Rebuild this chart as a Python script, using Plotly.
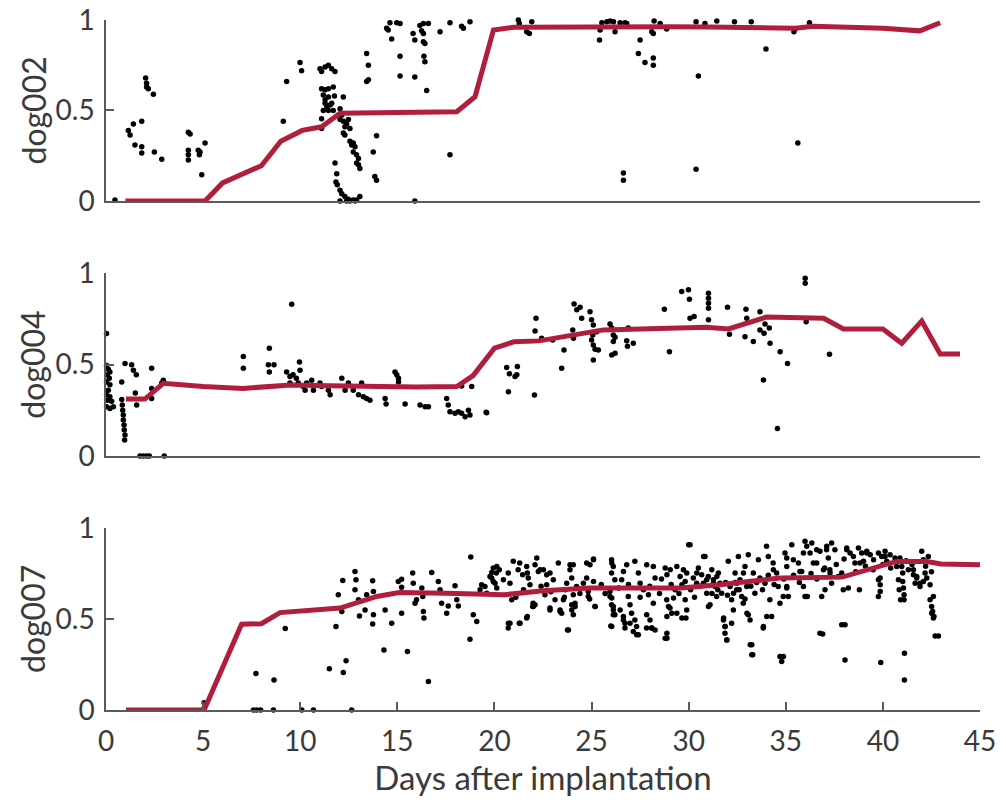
import plotly.graph_objects as go

# ---------------- data ----------------
x_ticks = [0, 5, 10, 15, 20, 25, 30, 35, 40, 45]
y_ticks = [0, 0.5, 1]
y_tick_text = ["0", "0.5", "1"]
panel_names = ["dog002", "dog004", "dog007"]
x_title = "Days after implantation"

dog002_line_days = [1.0, 5.1, 6.0, 7.0, 8.0, 9.0, 10.1, 11.1, 12.05, 14, 16, 18.06, 19.0, 19.95, 21.0,
                    23, 25, 27, 29, 31, 33, 34.5, 35.5, 36.4, 38, 40, 41.9, 42.95]
dog002_line_vals = [0, 0, 0.10, 0.145, 0.195, 0.33, 0.39, 0.41, 0.485, 0.488, 0.49, 0.493, 0.576, 0.945, 0.96,
                    0.962, 0.963, 0.963, 0.963, 0.962, 0.96, 0.952, 0.955, 0.965, 0.962, 0.955, 0.94, 0.985]

dog004_line_days = [1.03, 2.0, 2.95, 5, 7.05, 9.5, 11.5, 13.6, 16, 18.06, 18.9, 20.0, 21.0, 22.3, 24, 25.6,
                    28, 30.9, 32.05, 34.0, 36.95, 37.97, 40.0, 40.97, 42.0, 42.95, 43.97]
dog004_line_vals = [0.312, 0.312, 0.398, 0.38, 0.37, 0.389, 0.385, 0.38, 0.378, 0.38, 0.44, 0.59, 0.625, 0.63,
                    0.66, 0.69, 0.697, 0.704, 0.695, 0.76, 0.754, 0.695, 0.695, 0.617, 0.739, 0.558, 0.558]

dog007_line_days = [1.03, 5.05, 6.98, 8.0, 8.96, 12.05, 13.94, 15.1, 17.5, 19.8, 20.5, 22.5, 24.9, 29.6,
                    31.6, 34.7, 37.9, 40.7, 42.26, 43.0, 45.0]
dog007_line_vals = [0, 0, 0.471, 0.474, 0.535, 0.56, 0.624, 0.646, 0.642, 0.64, 0.633, 0.655, 0.67, 0.67,
                    0.688, 0.725, 0.73, 0.816, 0.816, 0.802, 0.798]

dog002_points = [
    (0.46, 0.005), (1.15, 0.39), (1.24, 0.365), (1.41, 0.425), (1.84, 0.44), (1.49, 0.31), (1.84, 0.30),
    (1.84, 0.265), (2.04, 0.68), (2.09, 0.65), (2.09, 0.63), (2.18, 0.62), (2.44, 0.59), (2.49, 0.27),
    (2.87, 0.23), (4.24, 0.38), (4.33, 0.37), (4.24, 0.28), (4.24, 0.255), (4.24, 0.227), (4.75, 0.28),
    (4.81, 0.255), (4.84, 0.27), (5.1, 0.32), (4.93, 0.145), (9.13, 0.44), (9.3, 0.66), (9.99, 0.765),
    (10.07, 0.72), (11.02, 0.73), (11.1, 0.715), (11.28, 0.74), (11.45, 0.75), (11.62, 0.73), (11.79, 0.715),
    (11.1, 0.62), (11.28, 0.615), (11.45, 0.62), (11.7, 0.63), (11.19, 0.585), (11.45, 0.575), (11.28, 0.56),
    (11.76, 0.58), (11.28, 0.54), (11.37, 0.52), (11.54, 0.53), (11.45, 0.50), (11.62, 0.54), (11.7, 0.50),
    (11.19, 0.50), (12.05, 0.51), (12.14, 0.475), (12.22, 0.575), (11.1, 0.455), (12.05, 0.45), (12.22, 0.44),
    (12.3, 0.41), (12.39, 0.425), (12.48, 0.45), (12.56, 0.40), (12.22, 0.375), (12.3, 0.365), (11.1, 0.40),
    (12.56, 0.33), (12.65, 0.31), (12.73, 0.32), (12.82, 0.30), (12.73, 0.27), (12.9, 0.255), (13.0, 0.235),
    (12.9, 0.21), (13.07, 0.18), (13.0, 0.20), (11.79, 0.21), (11.88, 0.15), (11.84, 0.105), (11.91, 0.09),
    (12.05, 0.06), (12.14, 0.04), (12.3, 0.025), (12.48, 0.01), (12.56, 0.0), (12.73, 0.005), (12.9, 0.005),
    (13.07, 0.025), (12.05, 0.0), (12.39, 0.0), (12.82, 0.0), (13.42, 0.815), (13.51, 0.75), (13.51, 0.67),
    (13.42, 0.66), (13.93, 0.36), (13.76, 0.27), (13.84, 0.135), (13.93, 0.115), (14.45, 0.955),
    (14.53, 0.945), (14.62, 0.985), (14.71, 0.895), (14.97, 0.985), (15.14, 0.98), (15.14, 0.80),
    (15.14, 0.69), (15.9, 0.685), (15.81, 0.925), (15.9, 0.89), (16.16, 0.97), (16.25, 0.94), (16.34, 0.925),
    (16.34, 0.88), (16.42, 0.87), (16.37, 0.80), (16.42, 0.77), (16.34, 0.98), (16.6, 0.98), (16.51, 0.61),
    (15.9, 0.0), (17.2, 0.935), (17.71, 0.985), (18.31, 0.965), (18.4, 0.955), (18.74, 0.99), (17.71, 0.255),
    (21.23, 1.0), (21.28, 0.98), (21.66, 0.935), (21.8, 0.925), (21.92, 0.99), (25.44, 0.945), (25.41, 0.89),
    (25.53, 0.985), (25.79, 0.99), (25.96, 0.995), (26.13, 0.99), (26.21, 0.935), (26.47, 0.985),
    (26.72, 0.985), (26.81, 0.98), (26.64, 0.155), (26.64, 0.115), (27.41, 0.815), (27.5, 0.89),
    (27.75, 0.765), (28.18, 0.79), (28.18, 0.75), (28.1, 0.935), (28.18, 0.925), (28.22, 0.995),
    (28.53, 0.98), (28.87, 0.95), (30.38, 0.99), (30.5, 0.69), (30.38, 0.175), (30.84, 0.98), (31.45, 0.995),
    (32.36, 0.99), (33.22, 0.99), (33.98, 0.84), (35.42, 0.935), (35.48, 0.95), (35.62, 0.32), (36.22, 0.985),
]

dog004_points = [
    (0.03, 0.67), (0.03, 0.495), (0.12, 0.475), (0.2, 0.46), (0.07, 0.445), (0.17, 0.425), (0.03, 0.405),
    (0.2, 0.39), (0.12, 0.36), (0.03, 0.335), (0.2, 0.325), (0.07, 0.305), (0.29, 0.30), (0.03, 0.27),
    (0.2, 0.26), (0.38, 0.27), (0.98, 0.507), (0.81, 0.405), (1.32, 0.50), (1.41, 0.47), (1.56, 0.445),
    (1.51, 0.345), (1.58, 0.28), (2.35, 0.48), (2.35, 0.37), (2.35, 0.315), (2.95, 0.415), (2.87, 0.40),
    (0.81, 0.31), (0.84, 0.28), (0.86, 0.25), (0.89, 0.225), (0.89, 0.197), (0.93, 0.17), (0.94, 0.142),
    (0.98, 0.115), (0.96, 0.088), (1.75, 0.0), (1.92, 0.0), (2.09, 0.0), (2.23, 0.0), (3.0, 0.0),
    (7.07, 0.545), (7.07, 0.48), (8.41, 0.59), (8.36, 0.50), (8.65, 0.50), (8.41, 0.46), (9.56, 0.83),
    (9.3, 0.46), (9.47, 0.435), (9.63, 0.445), (9.8, 0.425), (9.96, 0.515), (9.99, 0.47), (9.47, 0.40),
    (9.9, 0.40), (10.16, 0.38), (10.33, 0.40), (10.25, 0.36), (10.59, 0.415), (10.68, 0.36), (11.02, 0.40),
    (11.1, 0.38), (11.45, 0.36), (11.54, 0.335), (12.14, 0.425), (12.31, 0.36), (12.48, 0.40), (12.73, 0.36),
    (13.0, 0.335), (13.16, 0.40), (13.25, 0.325), (13.42, 0.315), (13.59, 0.305), (14.37, 0.315),
    (14.42, 0.285), (14.88, 0.46), (14.97, 0.445), (15.06, 0.425), (15.06, 0.405), (15.4, 0.285),
    (16.17, 0.28), (16.43, 0.27), (16.6, 0.27), (17.54, 0.315), (17.62, 0.28), (17.71, 0.243), (17.97, 0.234),
    (18.14, 0.243), (18.31, 0.234), (18.49, 0.215), (18.66, 0.25), (18.74, 0.225), (18.31, 0.383),
    (18.83, 0.38), (19.6, 0.237), (19.57, 0.24), (20.63, 0.485), (20.77, 0.45), (21.06, 0.435), (21.18, 0.49),
    (21.15, 0.445), (20.72, 0.352), (22.06, 0.334), (22.14, 0.754), (22.09, 0.684), (22.43, 0.644),
    (23.46, 0.48), (23.58, 0.58), (23.0, 0.635), (24.03, 0.69), (24.07, 0.644), (24.1, 0.832), (24.24, 0.80),
    (24.41, 0.814), (24.49, 0.754), (24.92, 0.79), (25.0, 0.745), (25.09, 0.717), (25.06, 0.662),
    (25.0, 0.635), (25.09, 0.608), (25.18, 0.584), (25.09, 0.526), (25.26, 0.68), (25.35, 0.58),
    (25.95, 0.723), (26.04, 0.70), (26.12, 0.662), (26.21, 0.65), (26.12, 0.626), (26.04, 0.553),
    (26.21, 0.562), (26.81, 0.631), (26.85, 0.60), (26.89, 0.70), (27.15, 0.617), (28.75, 0.803),
    (29.01, 0.571), (29.64, 0.90), (29.99, 0.909), (30.04, 0.858), (30.07, 0.754), (30.28, 0.763),
    (31.02, 0.89), (31.02, 0.863), (31.02, 0.836), (31.02, 0.808), (31.02, 0.745), (32.0, 0.814),
    (32.1, 0.666), (32.9, 0.653), (32.95, 0.803), (32.99, 0.754), (33.33, 0.626), (33.67, 0.79),
    (33.67, 0.69), (33.93, 0.723), (33.88, 0.672), (34.15, 0.70), (34.19, 0.617), (33.85, 0.416),
    (34.71, 0.571), (35.09, 0.507), (34.57, 0.151), (36.0, 0.973), (36.0, 0.945), (36.05, 0.735),
    (37.25, 0.557),
]

dog007_points = [
    (5.05, 0.04), (5.05, 0.01), (7.72, 0.20), (7.59, 0.0), (7.76, 0.0), (7.96, 0.0), (8.65, 0.165),
    (8.62, 0.0), (9.23, 0.448), (10.08, 0.0), (10.68, 0.0), (12.65, 0.0), (11.5, 0.226), (11.84, 0.459),
    (11.96, 0.633), (12.19, 0.712), (12.22, 0.206), (12.36, 0.27), (12.14, 0.541), (12.82, 0.761),
    (12.87, 0.716), (12.82, 0.66), (13.0, 0.606), (13.05, 0.517), (13.34, 0.55), (13.42, 0.633),
    (13.73, 0.71), (13.77, 0.651), (13.73, 0.473), (13.77, 0.523), (14.31, 0.33), (14.37, 0.55),
    (14.71, 0.477), (15.05, 0.706), (15.22, 0.719), (15.22, 0.532), (15.22, 0.675), (15.52, 0.321),
    (15.79, 0.752), (15.82, 0.697), (15.99, 0.606), (15.91, 0.587), (16.26, 0.67), (16.31, 0.624),
    (16.34, 0.541), (16.37, 0.505), (16.6, 0.156), (16.77, 0.756), (17.11, 0.706), (17.2, 0.66),
    (17.28, 0.587), (17.54, 0.532), (17.62, 0.572), (17.97, 0.683), (18.06, 0.606), (18.14, 0.572),
    (18.74, 0.389), (18.78, 0.84), (18.91, 0.523), (19.09, 0.486), (19.26, 0.66), (19.34, 0.688),
    (19.51, 0.679), (19.6, 0.642), (19.77, 0.734), (19.86, 0.756), (19.94, 0.78), (20.12, 0.789),
    (19.94, 0.706), (20.12, 0.67), (20.1, 0.752), (19.86, 0.725), (20.03, 0.697), (20.25, 0.77),
    (20.46, 0.716), (20.71, 0.752), (20.8, 0.697), (20.89, 0.606), (20.71, 0.45), (20.8, 0.477),
    (21.28, 0.477), (20.97, 0.817), (21.22, 0.77), (21.3, 0.807), (21.45, 0.743), (21.66, 0.789),
    (21.69, 0.752), (21.74, 0.725), (21.83, 0.688), (22.18, 0.835), (22.09, 0.798), (22.26, 0.761),
    (21.97, 0.569), (21.69, 0.514), (21.99, 0.587), (22.52, 0.77), (22.69, 0.688), (22.86, 0.752),
    (23.03, 0.716), (22.6, 0.633), (23.12, 0.606), (23.29, 0.807), (22.86, 0.56), (23.38, 0.55),
    (23.46, 0.532), (23.64, 0.661), (23.72, 0.697), (23.81, 0.44), (23.89, 0.77), (23.98, 0.725),
    (24.06, 0.798), (24.06, 0.633), (23.98, 0.578), (24.15, 0.569), (24.06, 0.523), (24.23, 0.679),
    (24.58, 0.697), (24.75, 0.725), (24.92, 0.798), (25.1, 0.829), (24.83, 0.651), (25.18, 0.569),
    (25.1, 0.706), (26.03, 0.826), (26.12, 0.789), (26.03, 0.752), (26.2, 0.716), (26.55, 0.716),
    (26.64, 0.761), (26.81, 0.798), (25.95, 0.624), (26.03, 0.578), (26.12, 0.55), (26.2, 0.523),
    (25.99, 0.462), (26.64, 0.514), (26.72, 0.477), (26.89, 0.624), (26.98, 0.578), (27.06, 0.532),
    (27.23, 0.495), (27.32, 0.459), (27.41, 0.413), (27.23, 0.817), (27.41, 0.752), (27.5, 0.697),
    (27.67, 0.661), (27.84, 0.798), (27.93, 0.633), (27.84, 0.523), (28.01, 0.495), (28.1, 0.45),
    (28.18, 0.587), (28.27, 0.44), (28.18, 0.789), (28.27, 0.725), (28.79, 0.78), (28.88, 0.743),
    (29.05, 0.77), (28.96, 0.569), (28.88, 0.514), (29.13, 0.532), (29.22, 0.615), (29.3, 0.661),
    (28.88, 0.422), (28.88, 0.394), (29.39, 0.789), (29.56, 0.734), (29.65, 0.688), (29.73, 0.77),
    (29.82, 0.706), (29.9, 0.752), (29.82, 0.606), (29.9, 0.55), (29.86, 0.505), (30.07, 0.908),
    (30.24, 0.725), (30.41, 0.697), (30.5, 0.78), (30.67, 0.743), (30.76, 0.697), (30.84, 0.844),
    (30.93, 0.642), (31.01, 0.734), (31.1, 0.578), (31.19, 0.77), (31.27, 0.716), (31.36, 0.679),
    (31.44, 0.624), (31.53, 0.752), (31.61, 0.697), (31.7, 0.642), (31.79, 0.495), (31.87, 0.459),
    (31.87, 0.422), (31.96, 0.385), (32.04, 0.817), (32.13, 0.679), (32.21, 0.606), (32.3, 0.55),
    (32.21, 0.477), (32.39, 0.752), (32.47, 0.661), (32.56, 0.844), (32.64, 0.716), (32.73, 0.624),
    (32.81, 0.587), (32.9, 0.789), (32.99, 0.679), (33.07, 0.853), (33.07, 0.523), (33.16, 0.495),
    (33.25, 0.358), (33.3, 0.303), (33.33, 0.752), (33.41, 0.642), (33.59, 0.826), (33.67, 0.725),
    (33.84, 0.45), (33.93, 0.697), (34.01, 0.899), (34.1, 0.844), (34.18, 0.606), (34.27, 0.514),
    (34.35, 0.807), (34.53, 0.752), (34.61, 0.679), (34.79, 0.266), (34.88, 0.294), (34.7, 0.587),
    (35.05, 0.789), (34.96, 0.862), (35.05, 0.679), (35.13, 0.624), (35.05, 0.835), (35.31, 0.908),
    (35.65, 0.807), (35.82, 0.761), (35.91, 0.862), (35.91, 0.679), (35.99, 0.927), (36.08, 0.899),
    (36.11, 0.624), (36.25, 0.862), (36.34, 0.917), (36.42, 0.807), (36.59, 0.881), (36.76, 0.872),
    (36.85, 0.624), (36.9, 0.418), (36.94, 0.771), (37.02, 0.661), (37.11, 0.899), (37.19, 0.835),
    (37.28, 0.752), (37.36, 0.917), (37.36, 0.697), (37.53, 0.881), (37.88, 0.752), (37.96, 0.661),
    (38.05, 0.468), (38.05, 0.275), (38.14, 0.89), (38.22, 0.67), (38.31, 0.862), (38.56, 0.807),
    (38.74, 0.89), (38.79, 0.661), (38.91, 0.862), (39.0, 0.817), (39.17, 0.872), (39.35, 0.853),
    (39.52, 0.826), (39.77, 0.862), (39.86, 0.725), (39.86, 0.688), (39.86, 0.651), (39.89, 0.261),
    (39.94, 0.844), (40.11, 0.872), (40.2, 0.817), (40.37, 0.853), (40.62, 0.835), (40.88, 0.835),
    (40.97, 0.789), (41.02, 0.752), (41.02, 0.706), (41.06, 0.67), (41.09, 0.633), (41.09, 0.606),
    (41.11, 0.312), (41.11, 0.165), (41.31, 0.771), (41.57, 0.743), (41.74, 0.725), (41.91, 0.679),
    (42.0, 0.872), (42.09, 0.706), (42.26, 0.725), (42.34, 0.844), (42.43, 0.688), (42.6, 0.624),
    (42.51, 0.569), (42.56, 0.541), (42.63, 0.514), (42.69, 0.407), (42.86, 0.407), (42.17, 0.752),
    (41.66, 0.697),
    # second reading of the dense band
    (20.72, 0.477), (21.32, 0.477), (21.66, 0.505), (22.0, 0.569), (22.09, 0.578), (22.35, 0.771),
    (22.69, 0.743), (22.86, 0.55), (23.38, 0.541), (23.55, 0.606), (23.76, 0.44), (23.89, 0.798),
    (23.98, 0.55), (24.15, 0.587), (24.75, 0.807), (24.83, 0.624), (25.1, 0.826), (25.18, 0.569),
    (26.04, 0.807), (25.95, 0.651), (26.04, 0.615), (26.12, 0.569), (26.12, 0.523), (26.04, 0.459),
    (26.47, 0.55), (26.64, 0.495), (26.72, 0.45), (26.98, 0.477), (27.15, 0.431), (27.32, 0.413),
    (27.83, 0.45), (28.1, 0.45), (28.79, 0.394), (28.87, 0.606), (29.04, 0.56), (29.39, 0.532),
    (29.65, 0.505), (30.0, 0.908), (30.42, 0.752), (30.77, 0.844), (30.93, 0.716), (31.02, 0.569),
    (31.28, 0.697), (31.45, 0.734), (31.8, 0.505), (31.88, 0.459), (31.97, 0.385), (32.31, 0.642),
    (32.48, 0.697), (32.82, 0.752), (33.0, 0.532), (33.17, 0.358), (33.25, 0.303), (33.68, 0.716),
    (33.85, 0.459), (34.02, 0.514), (34.36, 0.771), (34.7, 0.294), (34.87, 0.624), (35.05, 0.67),
    (35.39, 0.826), (35.73, 0.761), (35.99, 0.624), (36.76, 0.422), (36.59, 0.807), (37.1, 0.881),
    (37.27, 0.771), (37.7, 0.734), (37.88, 0.468), (38.14, 0.881), (38.48, 0.844), (38.82, 0.807),
    (39.17, 0.862), (39.77, 0.716), (39.77, 0.624), (40.11, 0.844), (40.71, 0.789), (40.8, 0.716),
    (40.84, 0.661), (40.91, 0.606), (41.57, 0.771), (41.74, 0.734), (41.91, 0.697), (42.08, 0.826),
    (42.43, 0.606), (42.51, 0.532), (42.6, 0.505),
    (21.1, 0.62), (21.5, 0.66), (22.4, 0.68), (22.9, 0.65), (23.6, 0.62), (24.4, 0.64), (24.9, 0.61),
    (25.5, 0.69), (25.7, 0.64), (26.4, 0.67), (26.9, 0.69), (27.5, 0.62), (28.0, 0.68), (28.5, 0.64),
    (28.6, 0.72), (29.1, 0.69), (29.5, 0.64), (30.1, 0.66), (30.3, 0.62), (30.6, 0.68), (31.2, 0.64),
    (31.5, 0.66), (31.9, 0.70), (32.0, 0.63), (32.4, 0.70), (32.6, 0.66), (32.9, 0.61), (33.2, 0.68),
    (33.5, 0.70), (33.8, 0.66), (34.1, 0.74), (34.4, 0.69), (34.9, 0.72), (35.4, 0.74), (35.7, 0.70),
    (36.3, 0.75), (36.6, 0.72), (37.0, 0.78), (37.6, 0.80), (38.0, 0.83), (38.6, 0.76), (39.1, 0.79),
    (39.5, 0.77), (40.0, 0.80), (40.4, 0.78), (41.2, 0.82), (41.5, 0.80), (42.2, 0.79), (42.5, 0.76),
]

# ---------------- figure ----------------
LINE_COLOR = "#b01e3c"
AXIS_COLOR = "#5a5a5a"
TEXT_COLOR = "#3a3a3a"
FONT = "Lato"

panels = [
    (dog002_points, dog002_line_days, dog002_line_vals),
    (dog004_points, dog004_line_days, dog004_line_vals),
    (dog007_points, dog007_line_days, dog007_line_vals),
]
domains = [[0.7377, 1.0], [0.368, 0.633], [0.0, 0.2638]]

fig = go.Figure()
for i, (pts, ld, lv) in enumerate(panels):
    xa = "x" if i == 0 else f"x{i+1}"
    ya = "y" if i == 0 else f"y{i+1}"
    fig.add_trace(go.Scatter(
        x=[p[0] for p in pts], y=[p[1] for p in pts], mode="markers",
        marker=dict(color="black", size=5.5, line=dict(width=0)),
        xaxis=xa, yaxis=ya, cliponaxis=False, showlegend=False, hoverinfo="skip"))
    fig.add_trace(go.Scatter(
        x=ld, y=lv, mode="lines", line=dict(color=LINE_COLOR, width=5),
        xaxis=xa, yaxis=ya, cliponaxis=False, showlegend=False, hoverinfo="skip"))

layout = dict(
    width=1006, height=800,
    margin=dict(l=106, r=26, t=20, b=90),
    paper_bgcolor="white", plot_bgcolor="white",
    font=dict(family=FONT, color=TEXT_COLOR, size=28),
    showlegend=False,
)
for i in range(3):
    xk = "xaxis" if i == 0 else f"xaxis{i+1}"
    yk = "yaxis" if i == 0 else f"yaxis{i+1}"
    ya = "y" if i == 0 else f"y{i+1}"
    xa = "x" if i == 0 else f"x{i+1}"
    last = (i == 2)
    layout[xk] = dict(
        range=[0, 45], anchor=ya, domain=[0, 1], automargin=False,
        showline=True, linecolor=AXIS_COLOR, linewidth=1.5,
        showgrid=False, zeroline=False,
        tickvals=x_ticks if last else [],
        ticks="inside" if last else "", ticklen=8, tickwidth=1.5, tickcolor=AXIS_COLOR,
        showticklabels=last, ticklabelstandoff=6, ticklabeloverflow="allow",
        tickfont=dict(size=28, color=TEXT_COLOR, family=FONT),
        title=dict(text=x_title, font=dict(size=33, color=TEXT_COLOR, family=FONT), standoff=2) if last else None,
    )
    if i > 0:
        layout[xk]["matches"] = "x"
    layout[yk] = dict(
        range=[0, 1], anchor=xa, domain=domains[i], automargin=False,
        showline=True, linecolor=AXIS_COLOR, linewidth=1.5,
        showgrid=False, zeroline=False,
        tickvals=y_ticks, ticktext=y_tick_text,
        ticks="inside", ticklen=8, tickwidth=1.5, tickcolor=AXIS_COLOR,
        ticklabelstandoff=4, ticklabeloverflow="allow",
        tickfont=dict(size=28, color=TEXT_COLOR, family=FONT),
    )

annotations = []
for i, name in enumerate(panel_names):
    d = domains[i]
    annotations.append(dict(
        text=name, xref="paper", yref="paper", x=-0.0835, y=(d[0] + d[1]) / 2,
        xanchor="center", yanchor="middle", textangle=-90, showarrow=False,
        font=dict(size=32, color=TEXT_COLOR, family=FONT)))
layout["annotations"] = annotations

fig.update_layout(**layout)
# remove the browser's default 8px body margin so the 1006x800 figure fills the window exactly
fig.write_html("out.html", config={"displayModeBar": False},
               post_script="document.body.style.margin='0px';document.body.style.overflow='hidden';")
